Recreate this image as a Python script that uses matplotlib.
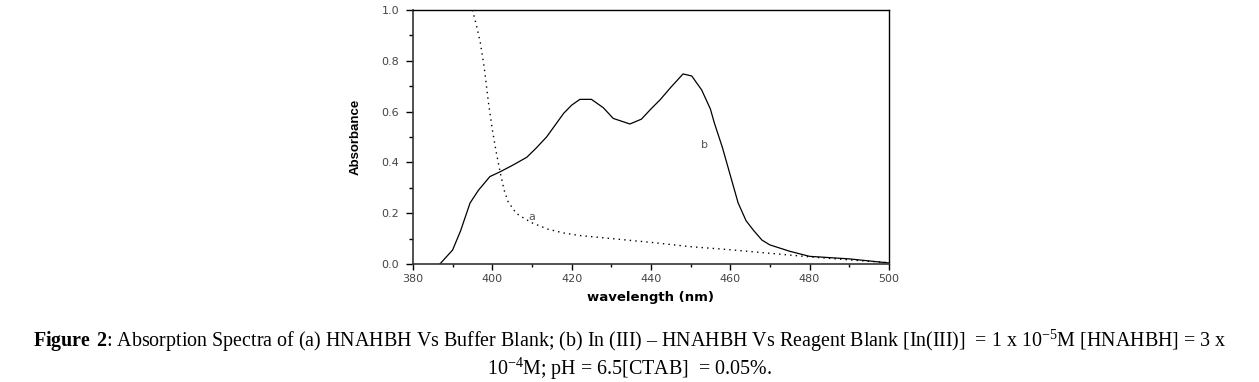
import matplotlib
matplotlib.use("Agg")
import matplotlib.pyplot as plt
from matplotlib.ticker import MultipleLocator

# curve a: HNAHBH vs buffer blank (dotted)
wl_a = [395, 396, 397, 398, 399, 400, 401, 402, 403, 404, 406, 408, 410, 414,
        418, 422, 430, 440, 450, 460, 470, 480, 490, 500]
abs_a = [1.0, 0.94, 0.87, 0.77, 0.64, 0.53, 0.44, 0.36, 0.29, 0.245, 0.20,
         0.18, 0.162, 0.137, 0.122, 0.112, 0.10, 0.085, 0.068, 0.056, 0.042,
         0.028, 0.016, 0.005]

# curve b: In(III)-HNAHBH vs reagent blank (solid)
wl_b = [386.8, 390, 392, 394.4, 396.5, 399.4, 402, 405.3, 408.7, 411, 413.7,
        418, 420, 422.1, 425, 428, 430.5, 434.7, 437.6, 440, 442.3, 445, 448.1,
        450.3, 452.8, 455, 456, 458, 460, 462, 464, 466, 468, 470, 475, 480,
        490, 500]
abs_b = [0.0, 0.055, 0.13, 0.24, 0.29, 0.344, 0.363, 0.39, 0.42, 0.455, 0.50,
         0.593, 0.625, 0.648, 0.648, 0.615, 0.573, 0.551, 0.57, 0.61, 0.646,
         0.695, 0.748, 0.74, 0.685, 0.61, 0.555, 0.46, 0.35, 0.24, 0.17, 0.13,
         0.094, 0.075, 0.05, 0.03, 0.02, 0.004]

FONT_TICK = 8

plt.rcParams["mathtext.fontset"] = "custom"
plt.rcParams["mathtext.rm"] = "Liberation Serif"
plt.rcParams["mathtext.bf"] = "Liberation Serif:bold"

fig = plt.figure(figsize=(12.59, 3.82), dpi=100)
ax = fig.add_axes([0.328, 0.309, 0.378, 0.665])

ax.plot(wl_b, abs_b, color="black", linewidth=0.9, linestyle="-")
ax.plot(wl_a, abs_a, color="black", linewidth=1.0, linestyle=(0, (1, 3)))

ax.text(410, 0.185, "a", fontsize=8, color="#555555", ha="center", va="center")
ax.text(453.5, 0.47, "b", fontsize=8, color="#555555", ha="center", va="center")

ax.set_xlim(380, 500)
ax.set_ylim(0.0, 1.0)
ax.xaxis.set_major_locator(MultipleLocator(20))
ax.xaxis.set_minor_locator(MultipleLocator(10))
ax.yaxis.set_major_locator(MultipleLocator(0.2))
ax.yaxis.set_minor_locator(MultipleLocator(0.1))
ax.yaxis.set_major_formatter(plt.FuncFormatter(lambda v, p: f"{v:.1f}"))

ax.tick_params(axis="both", which="major", direction="out", labelsize=FONT_TICK,
               labelcolor="#444444", width=1.0)
ax.tick_params(axis="y", which="major", length=5, pad=5)
ax.tick_params(axis="y", which="minor", length=3, width=1.0)
ax.tick_params(axis="x", which="major", length=4, pad=3)
ax.tick_params(axis="x", which="minor", length=2.5, width=1.0)

for s in ["left", "bottom"]:
    ax.spines[s].set_linewidth(1.2)
    ax.spines[s].set_color("#333333")
for s in ["top", "right"]:
    ax.spines[s].set_linewidth(1.0)

ax.set_ylabel("Absorbance", fontsize=9.5, fontweight="bold",
              family="Liberation Sans", labelpad=14)
ax.set_xlabel("wavelength (nm)", fontsize=9.5, fontweight="bold",
              family="DejaVu Sans", labelpad=5)

# caption
cap1 = (r"$\mathbf{Figure\ 2}$: Absorption Spectra of (a) HNAHBH Vs Buffer Blank; "
        r"(b) In (III) – HNAHBH Vs Reagent Blank [In(III)]  = 1 x 10$^{-5}$M "
        r"[HNAHBH] = 3 x")
cap2 = r"10$^{-4}$M; pH = 6.5[CTAB]  = 0.05%."
fig.text(0.5, 0.108, cap1, fontsize=14.4, family="Liberation Serif",
         ha="center", va="center")
fig.text(0.5, 0.036, cap2, fontsize=14.4, family="Liberation Serif",
         ha="center", va="center")

fig.savefig("out.png", dpi=100)
